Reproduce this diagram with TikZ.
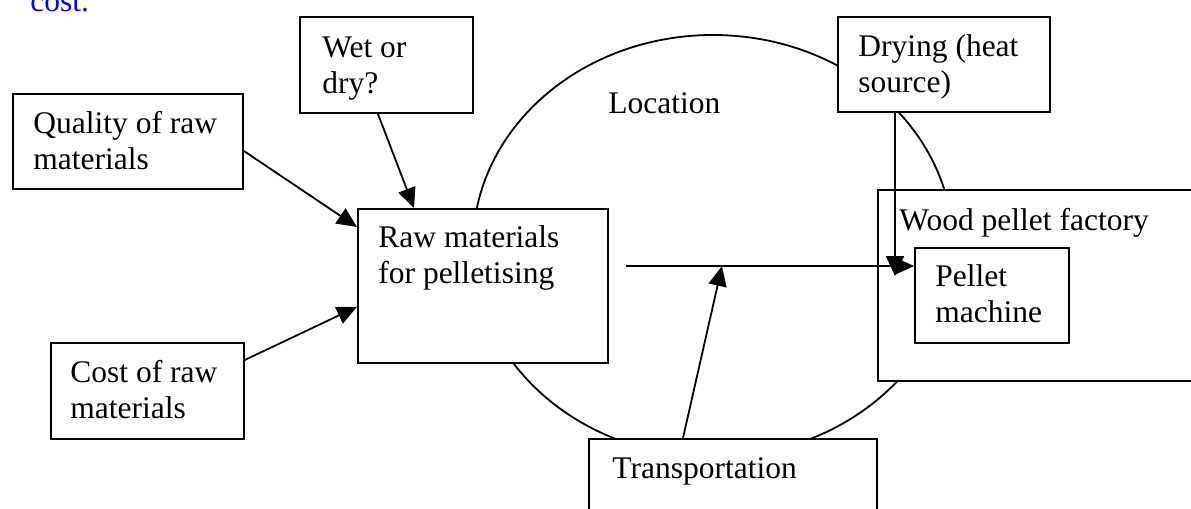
\documentclass[tikz,border=0pt]{standalone}
\usepackage{fontspec}
\setmainfont{Liberation Serif}
\usetikzlibrary{arrows.meta,shapes.geometric}
\begin{document}
\begin{tikzpicture}[x=0.5pt,y=-0.5pt,
  box/.style={draw,fill=white,line width=0.9pt,inner sep=0,anchor=north west},
  lbl/.style={anchor=base west,inner sep=0,font=\fontsize{15.75pt}{18pt}\selectfont},
  arr/.style={line width=0.9pt,-{Triangle[length=10pt,width=9pt]}}]
\useasboundingbox (0,0) rectangle (1191,509);
% blue clipped text at top
\node[lbl,text={rgb,255:red,0;green,0;blue,255}] (cst) at (30,11) {cost.};
% Location ellipse
\node[draw,ellipse,line width=0.9pt,inner sep=0,minimum width=240pt,minimum height=211pt] (loc) at (713,246) {};
\node[lbl] (loct) at (608,113) {Location};
% boxes
\node[box,minimum width=115pt,minimum height=47.5pt] (q) at (12,93) {};
\node[box,minimum width=86.5pt,minimum height=48pt] (wet) at (299,16) {};
\node[box,minimum width=106pt,minimum height=47.5pt] (dry) at (837,16) {};
\node[box,minimum width=125pt,minimum height=77pt] (raw) at (357,208) {};
\node[box,minimum width=96.5pt,minimum height=48pt] (cost) at (50,342) {};
\node[box,minimum width=144pt,minimum height=45pt] (tr) at (588,438) {};
\node[box,minimum width=165pt,minimum height=95.5pt] (fac) at (877,189) {};
\node[box,minimum width=77pt,minimum height=47.5pt,line width=0.8pt] (pm) at (914,247) {};
% labels
\node[lbl] (qt) at (33,133) {\begin{tabular}[t]{@{}l@{}}Quality of raw\\materials\end{tabular}};
\node[lbl] (wett) at (322,57) {\begin{tabular}[t]{@{}l@{}}Wet or\\dry?\end{tabular}};
\node[lbl] (dryt) at (858,56) {\begin{tabular}[t]{@{}l@{}}Drying (heat\\source)\end{tabular}};
\node[lbl] (rawt) at (378,247) {\begin{tabular}[t]{@{}l@{}}Raw materials\\for pelletising\end{tabular}};
\node[lbl] (costt) at (70,382) {\begin{tabular}[t]{@{}l@{}}Cost of raw\\materials\end{tabular}};
\node[lbl] (trt) at (612,478) {Transportation};
\node[lbl] (fact) at (899,230) {Wood pellet factory};
\node[lbl] (pmt) at (935,286) {\begin{tabular}[t]{@{}l@{}}Pellet\\machine\end{tabular}};
% free ends
\coordinate (hs) at (626,266);
\coordinate (hj) at (722,266);
\coordinate (de) at (895,276);
% connectors
\draw[arr] ([yshift=-4.75pt]q.east) -- ([yshift=-9.5pt]raw.north west);
\draw[arr] ([xshift=-4.25pt]wet.south) -- ([xshift=28.5pt]raw.north west);
\draw[arr] ([yshift=-9pt]cost.north east) -- ([yshift=28.5pt]raw.south west);
\draw[arr] (hs) -- ([yshift=-9.5pt]pm.north west);
\draw[arr] ([xshift=47.5pt]tr.north west) -- (hj);
\draw[arr] ([xshift=29pt]dry.south west) -- (de);
\end{tikzpicture}
\end{document}
